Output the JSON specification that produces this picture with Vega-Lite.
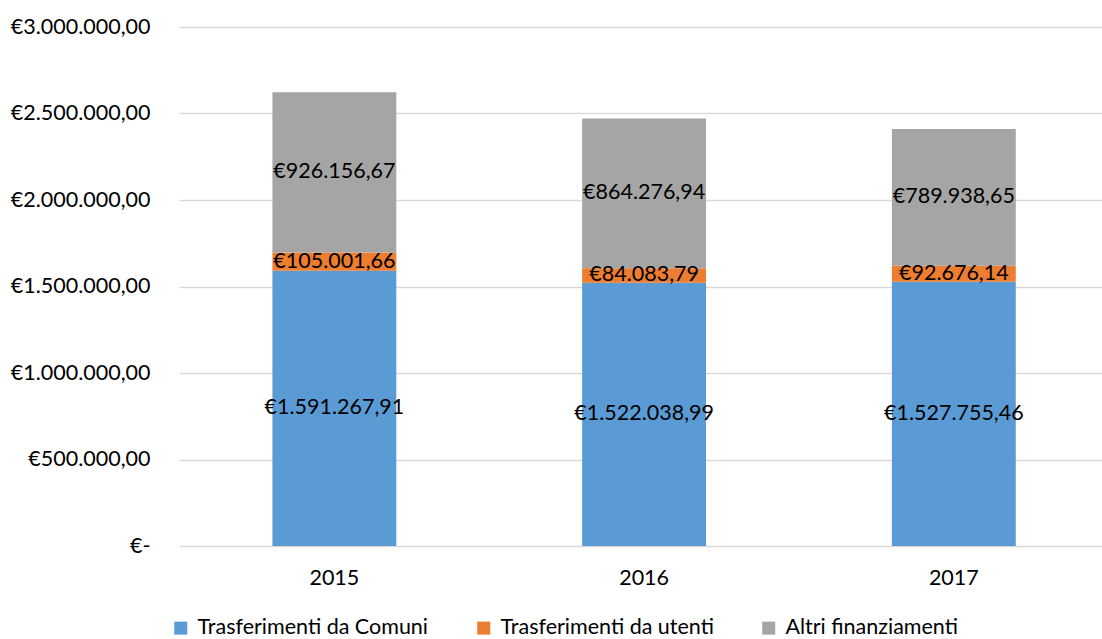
{
  "$schema": "https://vega.github.io/schema/vega-lite/v6.json",
  "width": 923,
  "height": 519,
  "autosize": {"type": "none"},
  "padding": {"left": 179, "top": 27, "right": 0, "bottom": 93},
  "background": "white",
  "config": {
    "locale": {"number": {"decimal": ",", "thousands": ".", "grouping": [3], "currency": ["€", ""]}},
    "font": "Lato",
    "view": {"stroke": null},
    "axis": {"labelFont": "Lato", "labelFontSize": 21.5, "labelColor": "#000000", "titleFontSize": 20},
    "legend": {"labelFont": "Lato", "labelFontSize": 21.5, "labelColor": "#000000", "labelLimit": 400}
  },
  "data": {
    "values": [
      {"year": "2015", "cat": "Trasferimenti da Comuni", "v": 1591267.91, "o": 1},
      {"year": "2015", "cat": "Trasferimenti da utenti", "v": 105001.66, "o": 2},
      {"year": "2015", "cat": "Altri finanziamenti", "v": 926156.67, "o": 3},
      {"year": "2016", "cat": "Trasferimenti da Comuni", "v": 1522038.99, "o": 1},
      {"year": "2016", "cat": "Trasferimenti da utenti", "v": 84083.79, "o": 2},
      {"year": "2016", "cat": "Altri finanziamenti", "v": 864276.94, "o": 3},
      {"year": "2017", "cat": "Trasferimenti da Comuni", "v": 1527755.46, "o": 1},
      {"year": "2017", "cat": "Trasferimenti da utenti", "v": 92676.14, "o": 2},
      {"year": "2017", "cat": "Altri finanziamenti", "v": 789938.65, "o": 3}
    ]
  },
  "encoding": {
    "x": {
      "field": "year", "type": "nominal", "title": null,
      "scale": {"paddingInner": 0.6, "paddingOuter": 0.29, "align": 0.52},
      "axis": {"domain": false, "ticks": false, "labelAngle": 0, "labelPadding": 21, "grid": false}
    }
  },
  "layer": [
    {
      "mark": {"type": "bar"},
      "encoding": {
        "y": {
          "field": "v", "type": "quantitative", "stack": "zero", "title": null,
          "scale": {"domain": [0, 3000000], "nice": false},
          "axis": {
            "values": [0, 500000, 1000000, 1500000, 2000000, 2500000, 3000000],
            "domain": false, "ticks": false, "labelPadding": 29,
            "gridColor": "#D9D9D9", "gridWidth": 1.5,
            "labelExpr": "datum.value === 0 ? '€-' : format(datum.value, '$,.2f')"
          }
        },
        "color": {
          "field": "cat", "type": "nominal",
          "scale": {
            "domain": ["Trasferimenti da Comuni", "Trasferimenti da utenti", "Altri finanziamenti"],
            "range": ["#5B9BD5", "#ED7D31", "#A5A5A5"]
          },
          "legend": {
            "title": null, "orient": "none", "direction": "horizontal",
            "legendX": -9, "legendY": 590,
            "symbolType": "square", "symbolSize": 169, "symbolStrokeWidth": 0,
            "labelOffset": 6, "columnPadding": 44
          }
        },
        "order": {"field": "o", "type": "quantitative"}
      }
    },
    {
      "transform": [
        {"stack": "v", "groupby": ["year"], "sort": [{"field": "o", "order": "ascending"}], "as": ["y0", "y1"]},
        {"fold": ["y0", "y1"], "as": ["k", "pos"]},
        {"aggregate": [{"op": "mean", "field": "pos", "as": "mid"}], "groupby": ["year", "cat", "v"]}
      ],
      "mark": {"type": "text", "fontSize": 21.5, "color": "#000000", "font": "Lato", "baseline": "middle"},
      "encoding": {
        "y": {"field": "mid", "type": "quantitative"},
        "text": {"field": "v", "type": "quantitative", "format": "$,.2f"}
      }
    }
  ]
}
